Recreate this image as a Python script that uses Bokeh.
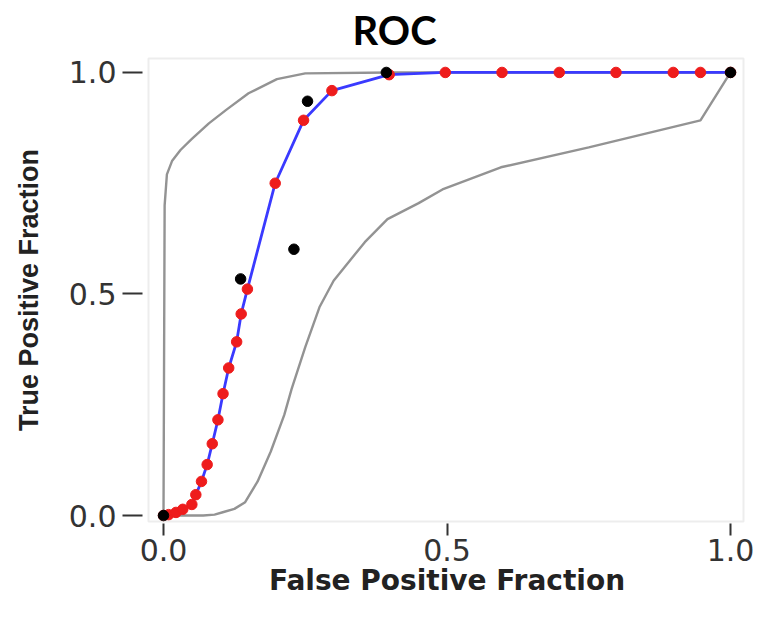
from bokeh.plotting import figure
from bokeh.models import Range1d, FixedTicker, PrintfTickFormatter, BoxAnnotation
from bokeh.embed import file_html
from bokeh.resources import INLINE

# ---- data ----
fitted_fpf = [0.0, 0.009, 0.022, 0.034, 0.050, 0.057, 0.067, 0.077, 0.086, 0.096, 0.105,
              0.115, 0.129, 0.137, 0.148, 0.197, 0.247, 0.297, 0.398, 0.497, 0.597,
              0.698, 0.798, 0.899, 0.947, 1.0]
fitted_tpf = [0.0, 0.002, 0.007, 0.014, 0.025, 0.047, 0.077, 0.115, 0.162, 0.216, 0.275,
              0.333, 0.392, 0.455, 0.511, 0.750, 0.892, 0.959, 0.995, 1.0, 1.0,
              1.0, 1.0, 1.0, 1.0, 1.0]

observed_fpf = [0.0, 0.136, 0.230, 0.254, 0.393, 1.0]
observed_tpf = [0.0, 0.534, 0.601, 0.935, 1.0, 1.0]

upper_fpf = [0.0, 0.002, 0.006, 0.015, 0.030, 0.050, 0.080, 0.110, 0.150, 0.200, 0.250, 0.400, 1.0]
upper_tpf = [0.0, 0.700, 0.770, 0.800, 0.825, 0.850, 0.885, 0.915, 0.953, 0.985, 0.998, 1.0, 1.0]

lower_fpf = [0.0, 0.070, 0.090, 0.106, 0.125, 0.144, 0.166, 0.189, 0.213, 0.226, 0.250,
             0.275, 0.300, 0.355, 0.395, 0.450, 0.492, 0.595, 0.750, 0.947, 1.0]
lower_tpf = [0.0, 0.000, 0.002, 0.008, 0.015, 0.030, 0.077, 0.144, 0.227, 0.286, 0.380,
             0.470, 0.530, 0.617, 0.669, 0.705, 0.736, 0.786, 0.831, 0.892, 1.0]

x_ticks = [0.0, 0.5, 1.0]
y_ticks = [0.0, 0.5, 1.0]
title_text = "ROC"
x_label = "False Positive Fraction"
y_label = "True Positive Fraction"

# ---- figure ----
p = figure(width=755, height=606, output_backend="svg", toolbar_location=None,
           x_range=Range1d(-0.03704, 1.037), y_range=Range1d(-0.0180, 1.0360),
           min_border_left=142, min_border_right=4, min_border_top=54, min_border_bottom=83,
           title=title_text)
p.outline_line_color = None
p.grid.visible = False
p.background_fill_color = "white"
p.border_fill_color = "white"

p.title.text_font = "Lato"
p.title.text_font_style = "bold"
p.title.text_font_size = "40px"
p.title.text_color = "black"
p.title.align = "left"
p.title.offset = 210
p.title.standoff = 6

# box (R-style, separated from the axes)
p.add_layout(BoxAnnotation(left=-0.02646, right=1.0229, bottom=-0.0135, top=1.0315,
                           fill_alpha=0, line_color="#c4c4c4", line_width=2))

# confidence band curves
p.line(upper_fpf, upper_tpf, line_color="#939393", line_width=2.4)
p.line(lower_fpf, lower_tpf, line_color="#939393", line_width=2.4)

# fitted ROC
p.line(fitted_fpf, fitted_tpf, line_color="#3a3aff", line_width=2.8)
p.scatter(fitted_fpf, fitted_tpf, size=10.5, fill_color="#ee1c1c", line_color="#ee1c1c")

# observed points
p.scatter(observed_fpf, observed_tpf, size=10.5, fill_color="black", line_color="black")

for ax, ticks in ((p.xaxis[0], x_ticks), (p.yaxis[0], y_ticks)):
    ax.ticker = FixedTicker(ticks=ticks)
    ax.formatter = PrintfTickFormatter(format="%.1f")
    ax.axis_line_color = None
    ax.major_tick_in = 0
    ax.major_tick_line_color = "#333333"
    ax.major_tick_line_width = 2
    ax.minor_tick_line_color = None
    ax.major_label_text_font = "DejaVu Sans"
    ax.major_label_text_font_size = "30px"
    ax.major_label_text_color = "#333333"
    ax.axis_label_text_font_style = "bold"
    ax.axis_label_text_color = "#222222"

xa = p.xaxis[0]
xa.major_tick_out = 12
xa.major_label_standoff = 3
xa.axis_label = x_label
xa.axis_label_text_font = "DejaVu Sans"
xa.axis_label_text_font_size = "28px"
xa.axis_label_standoff = 0

ya = p.yaxis[0]
ya.major_tick_out = 20
ya.major_label_standoff = 6
ya.major_label_orientation = "horizontal"
ya.axis_label = y_label
ya.axis_label_text_font = "Liberation Sans"
ya.axis_label_text_font_size = "27px"
ya.axis_label_standoff = 22

open("out.html", "w").write(file_html(p, INLINE))
